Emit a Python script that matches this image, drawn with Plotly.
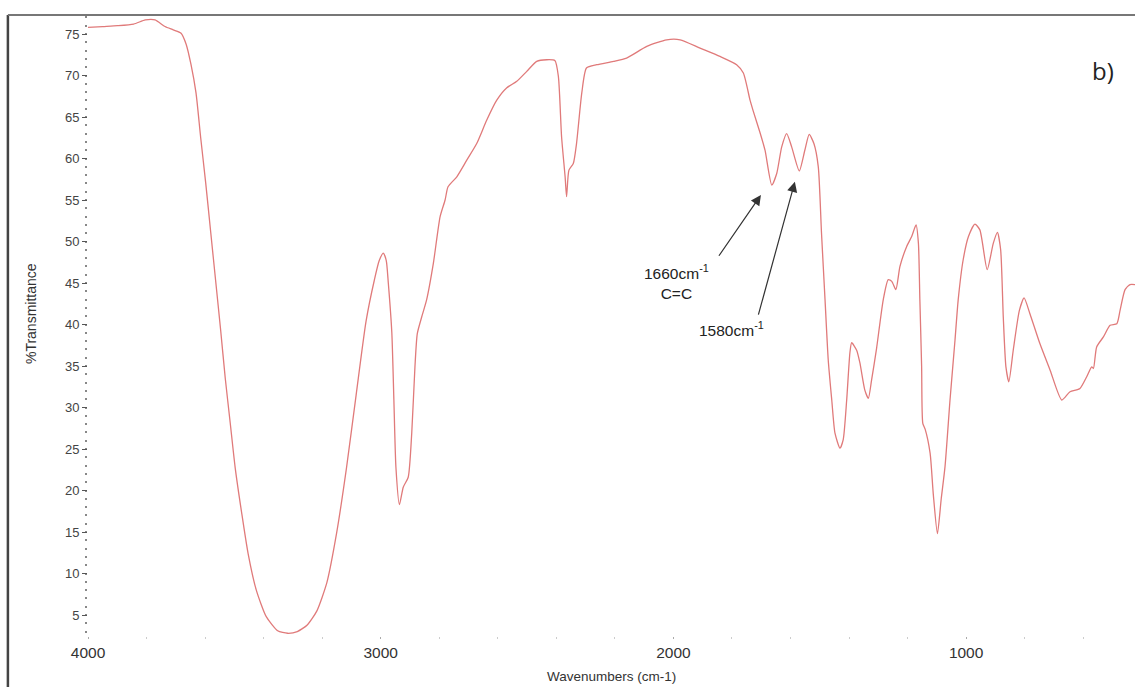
import plotly.graph_objects as go

# Wavenumbers (cm-1) and %Transmittance
wavenumber = [
    4000, 3950, 3899, 3844, 3804, 3771, 3737, 3709, 3682, 3665, 3648, 3631, 3615, 3598,
    3581, 3564, 3547, 3531, 3514, 3497, 3475, 3453, 3425, 3391, 3352, 3318, 3285, 3251,
    3218, 3184, 3151, 3117, 3084, 3050, 3022, 3005, 2991, 2981, 2974, 2962, 2955, 2948,
    2936, 2923, 2906, 2894, 2883, 2875, 2860, 2843, 2820, 2797, 2780, 2770, 2740, 2706,
    2672, 2638, 2604, 2570, 2535, 2501, 2467, 2433, 2405, 2393, 2382, 2370, 2365, 2357,
    2342, 2331, 2313, 2297, 2262, 2205, 2160, 2091, 2023, 1977, 1909, 1841, 1784, 1761,
    1738, 1728, 1704, 1687, 1664, 1647, 1630, 1613, 1596, 1570, 1551, 1536, 1520, 1505,
    1494, 1482, 1471, 1459, 1448, 1431, 1420, 1408, 1397, 1391, 1374, 1363, 1346, 1334,
    1323, 1306, 1283, 1266, 1254, 1240, 1226, 1203, 1186, 1171, 1163, 1158, 1152, 1148,
    1140, 1123, 1112, 1098, 1085, 1072, 1055, 1038, 1027, 1010, 992, 970, 953, 928,
    907, 893, 882, 873, 864, 854, 839, 818, 802, 782, 748, 713, 673, 645,
    611, 588, 571, 565, 554, 531, 508, 485, 474, 457, 440, 423,
]
transmittance = [
    75.8, 75.9, 76.0, 76.2, 76.7, 76.7, 75.9, 75.5, 75.1, 73.8, 71.3, 67.9, 62.5, 57.1,
    51.2, 45.3, 39.4, 33.5, 28.1, 22.7, 17.3, 12.4, 8.0, 4.8, 3.1, 2.8, 3.0, 3.8,
    5.5, 8.9, 14.8, 22.7, 31.5, 40.4, 45.3, 47.7, 48.6, 47.7, 45.0, 39.0, 30.9, 22.8,
    18.3, 20.4, 21.6, 26.9, 34.9, 38.9, 40.9, 43.0, 47.4, 53.0, 55.0, 56.6, 57.8, 59.8,
    61.8, 64.6, 67.0, 68.5, 69.3, 70.5, 71.7, 71.9, 71.8, 69.9, 62.6, 57.8, 55.4, 58.6,
    59.4, 61.8, 67.9, 70.9, 71.3, 71.7, 72.1, 73.5, 74.3, 74.3, 73.3, 72.3, 71.3, 70.3,
    67.0, 65.8, 63.1, 61.0, 56.8, 58.2, 61.4, 63.0, 61.4, 58.5, 61.0, 62.9, 61.8, 59.0,
    51.0, 43.0, 35.7, 30.9, 26.9, 25.1, 26.1, 30.9, 36.6, 37.8, 36.9, 35.4, 32.1, 31.1,
    33.3, 37.1, 43.0, 45.4, 45.2, 44.2, 47.0, 49.4, 50.6, 52.0, 49.8, 43.0, 35.0, 28.1,
    27.4, 24.5, 19.5, 14.8, 19.0, 22.9, 30.9, 38.1, 43.0, 47.8, 50.6, 52.1, 51.4, 46.6,
    49.8, 51.1, 49.0, 40.9, 34.9, 33.1, 36.9, 41.7, 43.2, 41.3, 37.7, 34.5, 30.9, 31.9,
    32.3, 33.7, 34.9, 34.7, 37.3, 38.5, 39.9, 40.1, 41.7, 44.2, 44.8, 44.8,
]

x_tickvals = [4000, 3000, 2000, 1000]
x_ticktext = ["4000", "3000", "2000", "1000"]
y_tickvals = [5, 10, 15, 20, 25, 30, 35, 40, 45, 50, 55, 60, 65, 70, 75]

# annotated peaks: label, text position, arrow tip, arrow tail
peak_labels = ["1660cm<sup>-1</sup><br>C=C", "1580cm<sup>-1</sup>"]
label_pos = [(1991, 45.1), (1803, 39.5)]
arrow_tip = [(1701, 55.6), (1585, 57.2)]
arrow_tail = [(1848, 48.1), (1711, 41.0)]

fig = go.Figure()
fig.add_trace(go.Scatter(
    x=wavenumber, y=transmittance, mode="lines",
    line=dict(color="#e07a7a", width=1.3, shape="spline", smoothing=0.6),
    showlegend=False, hoverinfo="x+y",
))

font_main = "Liberation Sans, Arial, sans-serif"

for (tx, ty), (ax, ay) in zip(arrow_tip, arrow_tail):
    fig.add_annotation(
        x=tx, y=ty, ax=ax, ay=ay, xref="x", yref="y", axref="x", ayref="y",
        text="", showarrow=True, arrowhead=2, arrowsize=1.7, arrowwidth=1.2,
        arrowcolor="#333333",
    )
for lab, (lx, ly) in zip(peak_labels, label_pos):
    fig.add_annotation(
        x=lx, y=ly, xref="x", yref="y", text=lab, showarrow=False,
        font=dict(family=font_main, size=15.5, color="#222222"), align="center",
    )

# panel label
fig.add_annotation(x=0.982, y=0.94, xref="paper", yref="paper", text="b)",
                   showarrow=False, font=dict(family="Open Sans, sans-serif", size=24, color="#222222"))
# axis titles
fig.add_annotation(x=0.5, y=-0.066, xref="paper", yref="paper", yanchor="middle",
                   text="Wavenumbers (cm-1)",
                   showarrow=False, font=dict(family=font_main, size=13.5, color="#333333"))
fig.add_annotation(x=-0.064, y=0.52, xref="paper", yref="paper", text="%Transmittance",
                   textangle=-90, showarrow=False,
                   font=dict(family=font_main, size=14, color="#333333"))

# frame lines
fig.add_shape(type="line", xref="paper", yref="paper", x0=-0.0765, x1=-0.0765, y0=-0.09, y1=1.0,
              line=dict(color="#444444", width=2.5))
fig.add_shape(type="line", xref="paper", yref="paper", x0=-0.0765, x1=1.0, y0=1.0, y1=1.0,
              line=dict(color="#777777", width=2))

fig.update_xaxes(
    range=[4000, 423], autorange=False, showgrid=False, zeroline=False, showline=False,
    tickvals=x_tickvals, ticktext=x_ticktext, ticks="outside", ticklen=2, tickcolor="#aaaaaa",
    tickfont=dict(family=font_main, size=15.5, color="#333333"),
    minor=dict(dtick=200, ticks="outside", ticklen=2, tickcolor="#cccccc"),
)
fig.update_yaxes(
    range=[2.47, 77.29], autorange=False, showgrid=False, zeroline=False, showline=False,
    tickvals=y_tickvals, ticks="outside", ticklen=5, tickcolor="#555555", tickwidth=1.2,
    tickfont=dict(family=font_main, size=13, color="#444444"),
    minor=dict(dtick=1, ticks="outside", ticklen=2, tickcolor="#888888", tickwidth=1.5),
)
fig.update_layout(
    width=1135, height=687, margin=dict(l=88, r=0, t=15, b=51),
    paper_bgcolor="white", plot_bgcolor="white",
)
fig.write_html("out.html")
